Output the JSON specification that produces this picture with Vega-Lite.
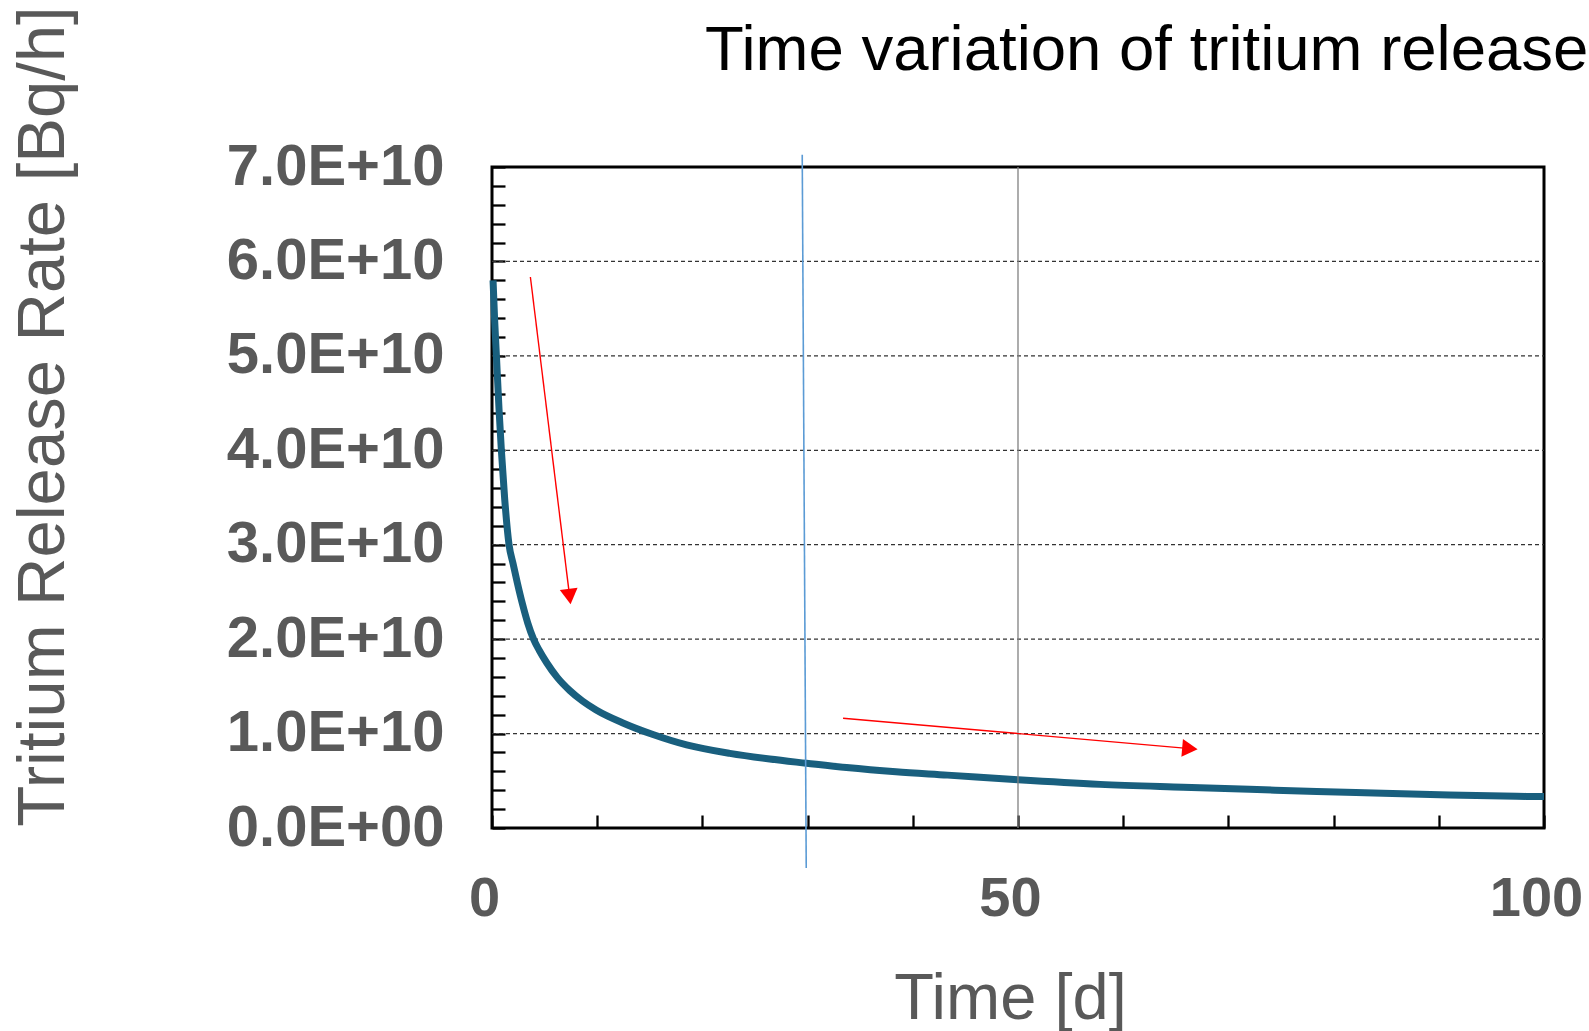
{
  "$schema": "https://vega.github.io/schema/vega-lite/v6.json",
  "width": 1052,
  "height": 661,
  "autosize": "none",
  "padding": {"left": 492, "top": 167, "right": 45, "bottom": 203},
  "background": "#ffffff",
  "config": {
    "view": {"stroke": "#000000", "strokeWidth": 3},
    "font": "Liberation Sans"
  },
  "title": {
    "text": "Time variation of tritium release",
    "anchor": "start",
    "frame": "group",
    "font": "Liberation Sans",
    "fontSize": 63.5,
    "fontWeight": "normal",
    "color": "#000000",
    "baseline": "alphabetic",
    "offset": 0,
    "dx": 213,
    "dy": 128,
    "limit": 0
  },
  "data": {
    "values": [
      {"kind": "curve", "x": 0.1, "y": 5.8e10},
      {"kind": "curve", "x": 0.25, "y": 5.38e10},
      {"kind": "curve", "x": 0.42, "y": 5.0e10},
      {"kind": "curve", "x": 0.67, "y": 4.43e10},
      {"kind": "curve", "x": 0.89, "y": 4.0e10},
      {"kind": "curve", "x": 1.21, "y": 3.48e10},
      {"kind": "curve", "x": 1.62, "y": 3.0e10},
      {"kind": "curve", "x": 2.0, "y": 2.8e10},
      {"kind": "curve", "x": 2.4, "y": 2.6e10},
      {"kind": "curve", "x": 2.9, "y": 2.37e10},
      {"kind": "curve", "x": 3.4, "y": 2.17e10},
      {"kind": "curve", "x": 3.95, "y": 2.0e10},
      {"kind": "curve", "x": 4.5, "y": 1.88e10},
      {"kind": "curve", "x": 5.2, "y": 1.75e10},
      {"kind": "curve", "x": 6.2, "y": 1.595e10},
      {"kind": "curve", "x": 7.4, "y": 1.455e10},
      {"kind": "curve", "x": 8.6, "y": 1.345e10},
      {"kind": "curve", "x": 9.9, "y": 1.25e10},
      {"kind": "curve", "x": 12.5, "y": 1.11e10},
      {"kind": "curve", "x": 15.3, "y": 0.99e10},
      {"kind": "curve", "x": 18.5, "y": 0.88e10},
      {"kind": "curve", "x": 22.6, "y": 0.79e10},
      {"kind": "curve", "x": 26.4, "y": 0.73e10},
      {"kind": "curve", "x": 29.9, "y": 0.686e10},
      {"kind": "curve", "x": 33.7, "y": 0.64e10},
      {"kind": "curve", "x": 38.4, "y": 0.595e10},
      {"kind": "curve", "x": 43.3, "y": 0.56e10},
      {"kind": "curve", "x": 50, "y": 0.51e10},
      {"kind": "curve", "x": 57.8, "y": 0.462e10},
      {"kind": "curve", "x": 65.7, "y": 0.432e10},
      {"kind": "curve", "x": 72, "y": 0.41e10},
      {"kind": "curve", "x": 78.4, "y": 0.386e10},
      {"kind": "curve", "x": 84.7, "y": 0.369e10},
      {"kind": "curve", "x": 91, "y": 0.35e10},
      {"kind": "curve", "x": 97.4, "y": 0.336e10},
      {"kind": "curve", "x": 100, "y": 0.333e10},
      {"kind": "grid", "x": 0, "x2": 100, "y": 1e10},
      {"kind": "grid", "x": 0, "x2": 100, "y": 2e10},
      {"kind": "grid", "x": 0, "x2": 100, "y": 3e10},
      {"kind": "grid", "x": 0, "x2": 100, "y": 4e10},
      {"kind": "grid", "x": 0, "x2": 100, "y": 5e10},
      {"kind": "grid", "x": 0, "x2": 100, "y": 6e10},
      {"kind": "v50", "x": 50, "y": 0, "y2": 7e10},
      {"kind": "blue", "x": 29.49, "y": 7.13e10, "x2": 29.87, "y2": -0.423e10},
      {"kind": "arrow1", "x": 3.65, "y": 5.835e10, "x2": 7.38, "y2": 2.45e10},
      {"kind": "head1", "x": 7.38, "y": 2.45e10},
      {"kind": "arrow2", "x": 33.37, "y": 1.163e10, "x2": 66.34, "y2": 0.841e10},
      {"kind": "head2", "x": 66.34, "y": 0.841e10}
    ]
  },
  "encoding": {
    "x": {
      "field": "x",
      "type": "quantitative",
      "scale": {"domain": [0, 100], "nice": false, "zero": false},
      "axis": {
        "title": "Time [d]",
        "values": [0, 10, 20, 30, 40, 50, 60, 70, 80, 90, 100],
        "labelExpr": "datum.value % 50 == 0 ? datum.label : ''",
        "grid": false,
        "domain": false,
        "ticks": true,
        "tickSize": -13,
        "tickWidth": 2.3,
        "tickColor": "#000000",
        "labelFont": "Liberation Sans",
        "labelFontSize": 56,
        "labelFontWeight": "bold",
        "labelColor": "#595959",
        "labelBaseline": "alphabetic",
        "labelPadding": 100,
        "labelOffset": -8,
        "labelFlush": false,
        "labelOverlap": false,
        "labelLimit": 0,
        "titleFont": "Liberation Sans",
        "titleFontSize": 65,
        "titleFontWeight": "normal",
        "titleColor": "#595959",
        "titleX": 518,
        "titleY": 190,
        "titleBaseline": "alphabetic",
        "titleAlign": "center",
        "titleLimit": 0
      }
    },
    "y": {
      "field": "y",
      "type": "quantitative",
      "scale": {"domain": [0, 70000000000], "nice": false, "zero": false},
      "axis": {
        "title": "Tritium Release Rate [Bq/h]",
        "values": [0, 2000000000, 4000000000, 6000000000, 8000000000, 10000000000, 12000000000, 14000000000, 16000000000, 18000000000, 20000000000, 22000000000, 24000000000, 26000000000, 28000000000, 30000000000, 32000000000, 34000000000, 36000000000, 38000000000, 40000000000, 42000000000, 44000000000, 46000000000, 48000000000, 50000000000, 52000000000, 54000000000, 56000000000, 58000000000, 60000000000, 62000000000, 64000000000, 66000000000, 68000000000, 70000000000],
        "labelExpr": "datum.value % 10000000000 != 0 ? '' : (datum.value == 0 ? '0.0E+00' : format(datum.value / 10000000000, '.1f') + 'E+10')",
        "grid": false,
        "domain": false,
        "ticks": true,
        "tickSize": -13,
        "tickWidth": 2.3,
        "tickColor": "#000000",
        "labelFont": "Liberation Sans",
        "labelFontSize": 58,
        "labelFontWeight": "bold",
        "labelColor": "#595959",
        "labelPadding": 61,
        "labelOverlap": false,
        "labelFlush": false,
        "labelLimit": 0,
        "titleFont": "Liberation Sans",
        "titleFontSize": 67,
        "titleFontWeight": "normal",
        "titleColor": "#595959",
        "titleAngle": -90,
        "titleX": -429,
        "titleY": 249,
        "titleBaseline": "alphabetic",
        "titleAlign": "center",
        "titleLimit": 0
      }
    }
  },
  "layer": [
    {
      "transform": [{"filter": "datum.kind == 'grid'"}],
      "mark": {"type": "rule", "color": "#333333", "strokeWidth": 1.3, "strokeDash": [4, 3]},
      "encoding": {"x2": {"field": "x2"}}
    },
    {
      "transform": [{"filter": "datum.kind == 'curve'"}],
      "mark": {"type": "line", "color": "#195f7e", "strokeWidth": 7, "interpolate": "monotone"},
      "encoding": {}
    },
    {
      "transform": [{"filter": "datum.kind == 'v50'"}],
      "mark": {"type": "rule", "color": "#808080", "strokeWidth": 1.3},
      "encoding": {"y2": {"field": "y2"}}
    },
    {
      "transform": [{"filter": "datum.kind == 'blue'"}],
      "mark": {"type": "rule", "color": "#5b9bd5", "strokeWidth": 1.6},
      "encoding": {"x2": {"field": "x2"}, "y2": {"field": "y2"}}
    },
    {
      "transform": [{"filter": "datum.kind == 'arrow1' || datum.kind == 'arrow2'"}],
      "mark": {"type": "rule", "color": "#ff0000", "strokeWidth": 1.4},
      "encoding": {"x2": {"field": "x2"}, "y2": {"field": "y2"}}
    },
    {
      "transform": [{"filter": "datum.kind == 'head1'"}],
      "mark": {"type": "point", "shape": "triangle-up", "filled": true, "size": 320, "angle": 173, "color": "#ff0000", "opacity": 1, "strokeWidth": 0}
    },
    {
      "transform": [{"filter": "datum.kind == 'head2'"}],
      "mark": {"type": "point", "shape": "triangle-up", "filled": true, "size": 320, "angle": 95, "color": "#ff0000", "opacity": 1, "strokeWidth": 0}
    }
  ]
}
